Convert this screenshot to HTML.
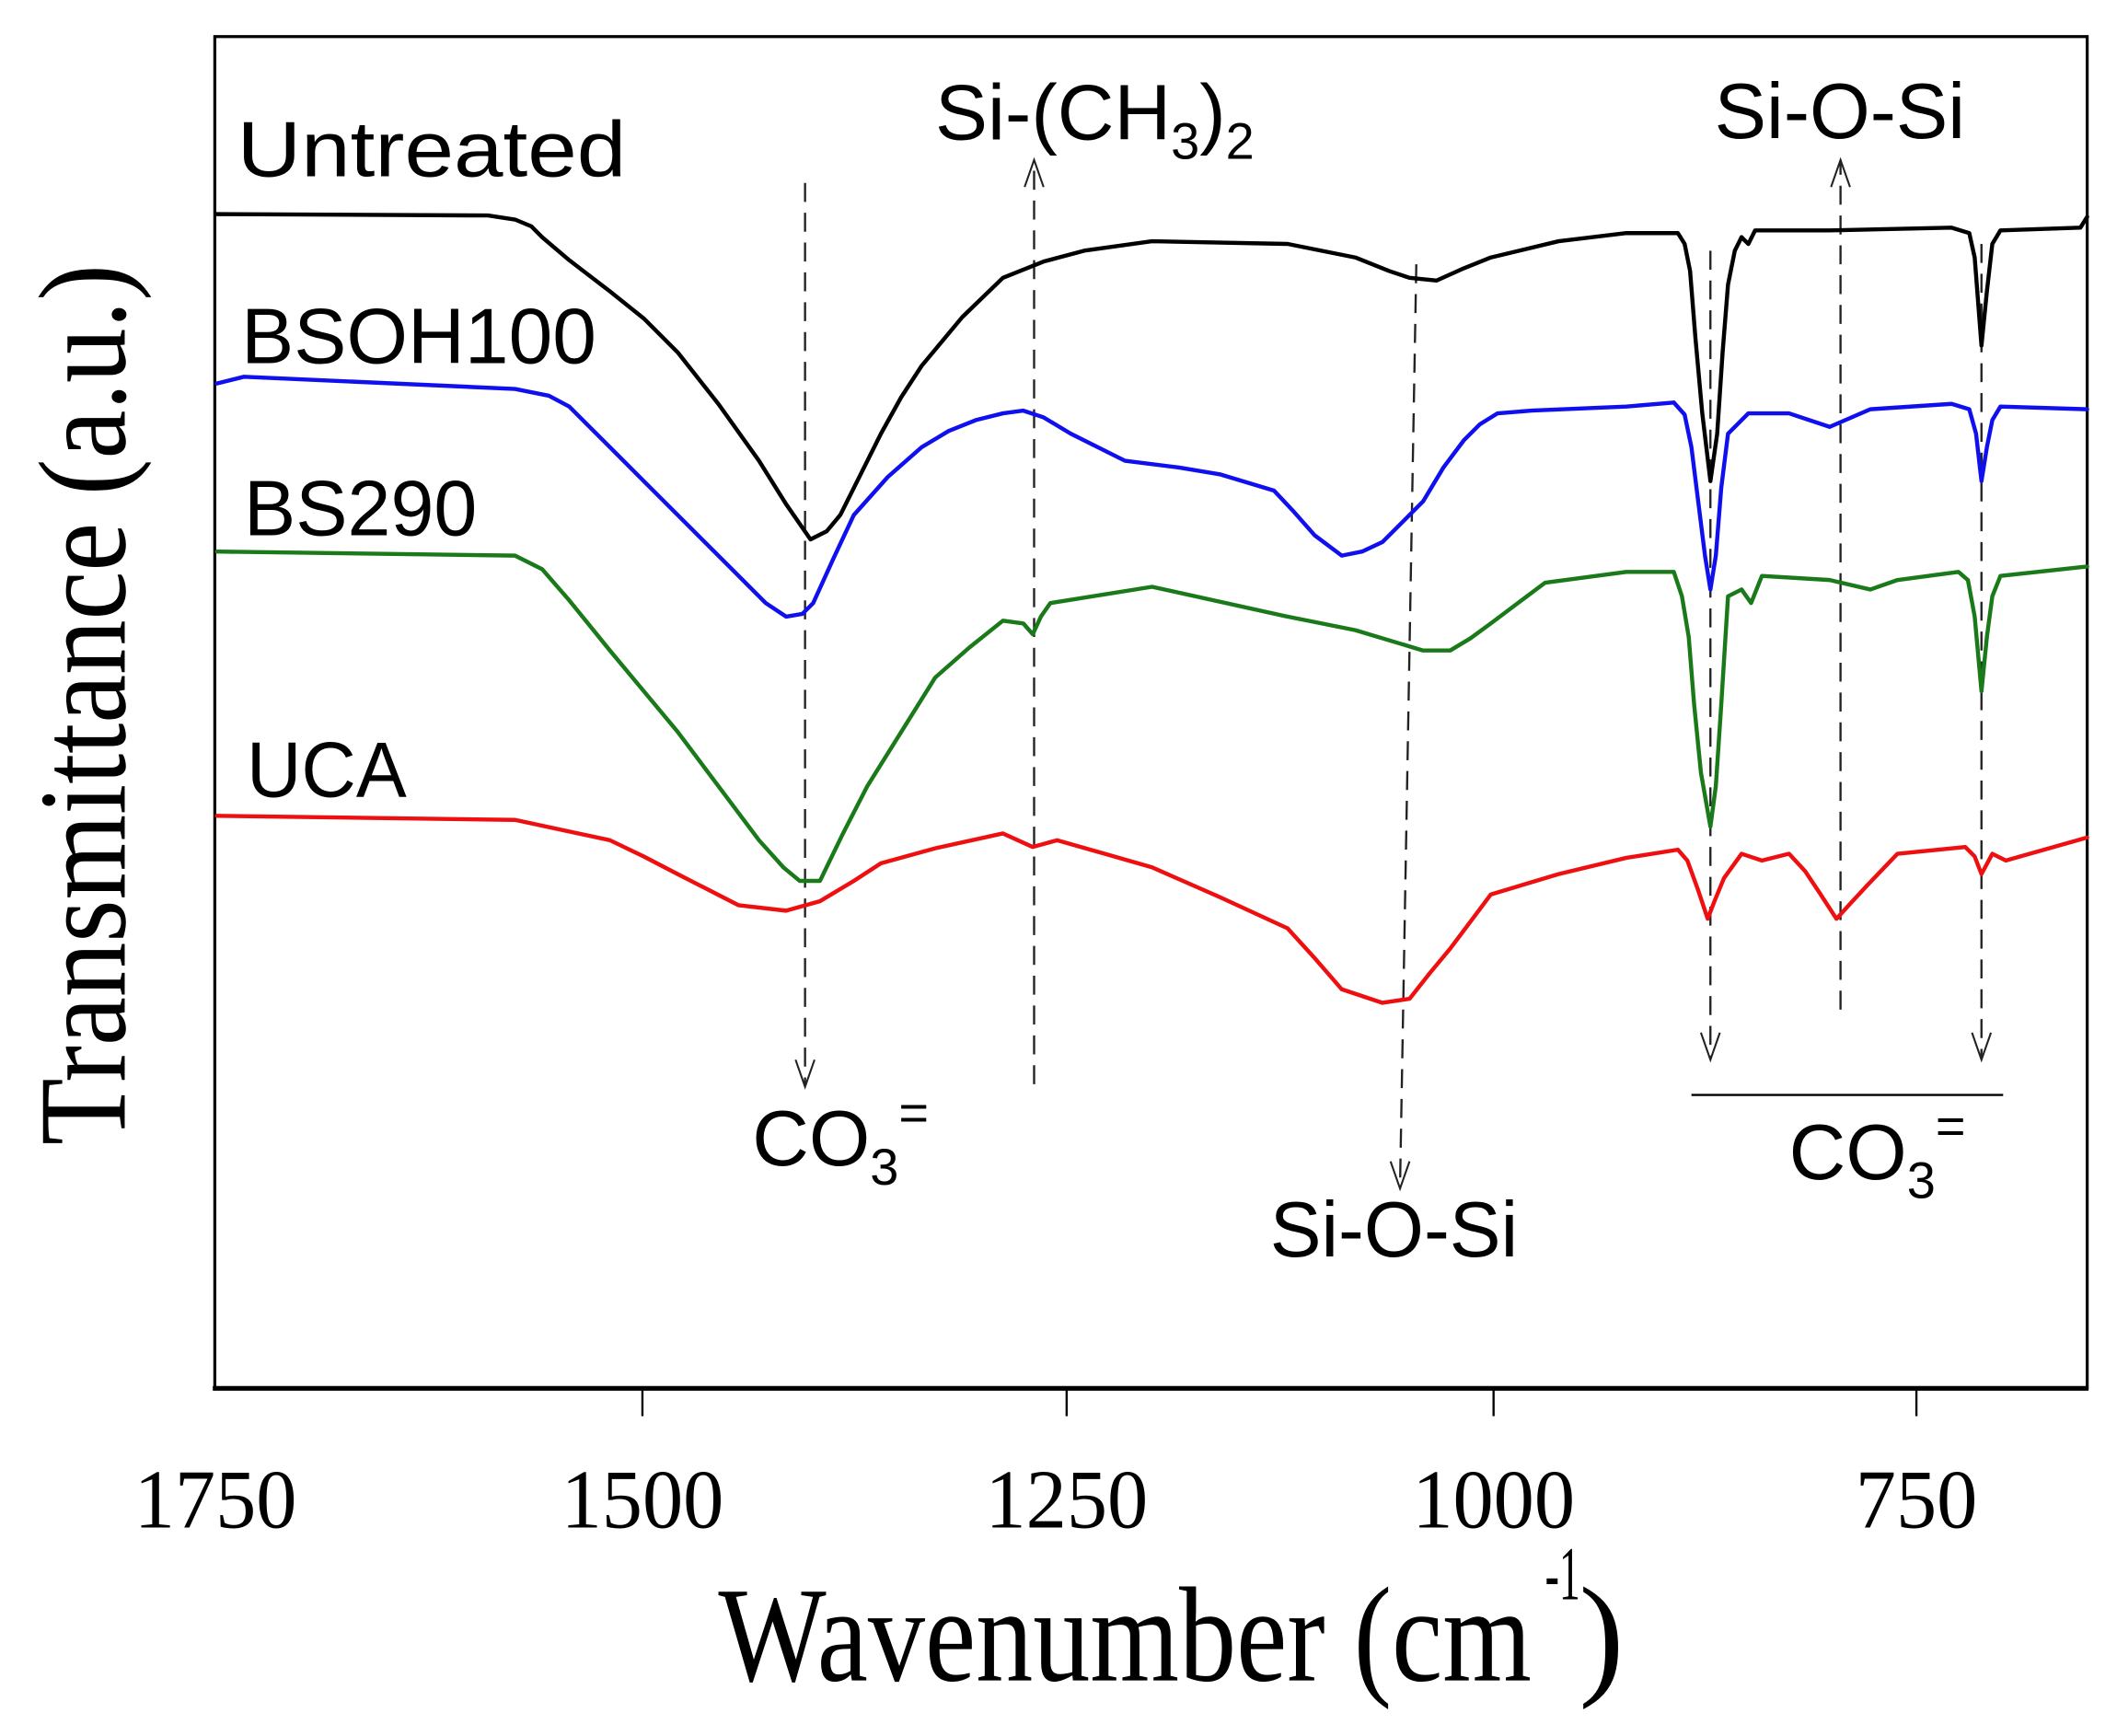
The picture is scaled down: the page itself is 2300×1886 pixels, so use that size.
<!DOCTYPE html>
<html><head><meta charset="utf-8"><style>html,body{margin:0;padding:0;background:#fff}svg{display:block}</style></head>
<body>
<svg width="2300" height="1886" viewBox="0 0 1562 1281" preserveAspectRatio="none" xmlns="http://www.w3.org/2000/svg">
<rect x="0" y="0" width="1562" height="1281" fill="#fff"/>
<rect x="158.5" y="27" width="1381.5" height="997" fill="none" stroke="#000" stroke-width="2.2"/>
<line x1="157" y1="1024.5" x2="1541" y2="1024.5" stroke="#000" stroke-width="3.5"/>
<g stroke="#000" stroke-width="1.6">
<line x1="474" y1="1024" x2="474" y2="1045"/><line x1="787" y1="1024" x2="787" y2="1045"/>
<line x1="1102" y1="1024" x2="1102" y2="1045"/><line x1="1414" y1="1024" x2="1414" y2="1045"/>
</g>
<g font-family="Liberation Serif, serif" font-size="62" text-anchor="middle" fill="#000">
<text x="159" y="1127" textLength="120" lengthAdjust="spacingAndGlyphs">1750</text>
<text x="474" y="1127" textLength="120" lengthAdjust="spacingAndGlyphs">1500</text>
<text x="787" y="1127" textLength="120" lengthAdjust="spacingAndGlyphs">1250</text>
<text x="1102" y="1127" textLength="120" lengthAdjust="spacingAndGlyphs">1000</text>
<text x="1414" y="1127" textLength="90" lengthAdjust="spacingAndGlyphs">750</text>
</g>
<text x="530" y="1240" font-family="Liberation Serif, serif" font-size="100" textLength="600" lengthAdjust="spacingAndGlyphs">Wavenumber (cm</text>
<text x="1140" y="1180" font-family="Liberation Serif, serif" font-size="56" textLength="26" lengthAdjust="spacingAndGlyphs">-1</text>
<text x="1165" y="1240" font-family="Liberation Serif, serif" font-size="100">)</text>
<text transform="translate(92,845) rotate(-90)" font-family="Liberation Serif, serif" font-size="92" textLength="650" lengthAdjust="spacingAndGlyphs">Transmittance (a.u.)</text>

<g font-family="Liberation Sans, sans-serif" font-size="58" fill="#000">
<text x="175" y="130" textLength="287" lengthAdjust="spacingAndGlyphs">Untreated</text>
<text x="178" y="268" textLength="262" lengthAdjust="spacingAndGlyphs">BSOH100</text>
<text x="180" y="395" textLength="172" lengthAdjust="spacingAndGlyphs">BS290</text>
<text x="182" y="588" textLength="118" lengthAdjust="spacingAndGlyphs">UCA</text>
<text x="690" y="103">Si-(CH<tspan font-size="38" dy="14">3</tspan><tspan dy="-14">)</tspan><tspan font-size="38" dy="14">2</tspan></text>
<text x="1265" y="102" textLength="185" lengthAdjust="spacingAndGlyphs">Si-O-Si</text>
<text x="555" y="860">CO<tspan font-size="38" dy="14">3</tspan><tspan font-size="38" dy="-40">=</tspan></text>
<text x="937" y="927" textLength="183" lengthAdjust="spacingAndGlyphs">Si-O-Si</text>
<text x="1320" y="870">CO<tspan font-size="38" dy="14">3</tspan><tspan font-size="38" dy="-40">=</tspan></text>
</g>
<line x1="1248" y1="808" x2="1478" y2="808" stroke="#000" stroke-width="1.6"/>

<g stroke="#222" stroke-width="1.6" stroke-dasharray="14,8" fill="none">
<line x1="594" y1="135" x2="594" y2="800"/>
<line x1="763" y1="800" x2="763" y2="118"/>
<line x1="1045" y1="195" x2="1033" y2="875"/>
<line x1="1262" y1="185" x2="1262" y2="780"/>
<line x1="1358" y1="745" x2="1358" y2="118"/>
<line x1="1462" y1="180" x2="1462" y2="780"/>
</g>
<g stroke="#222" stroke-width="1.4" fill="none">
<polyline points="587,782 594,802 601,782"/>
<polyline points="756,138 763,118 770,138"/>
<polyline points="1026,857 1033,877 1040,857"/>
<polyline points="1255,762 1262,782 1269,762"/>
<polyline points="1351,138 1358,118 1365,138"/>
<polyline points="1455,762 1462,782 1469,762"/>
</g>

<g fill="none" stroke-width="3" stroke-linejoin="round" stroke-linecap="round">
<polyline stroke="#000" points="160,158 360,159 380,162 392,167 400,175 420,192 450,215 475,235 500,260 530,298 560,340 580,372 598,398 610,392 620,380 635,350 650,320 665,293 680,270 710,234 740,205 770,193 800,185 850,178 950,180 1000,190 1025,200 1040,205 1060,207 1080,198 1100,190 1150,178 1200,172 1238,172 1243,180 1247,200 1251,250 1256,305 1262,355 1267,320 1271,260 1275,210 1280,185 1285,175 1290,180 1295,170 1350,170 1440,168 1453,172 1457,190 1462,255 1466,215 1470,180 1476,170 1535,168 1540,160"/>
<polyline stroke="#1010ee" points="160,283 180,278 380,287 405,292 420,300 450,330 480,360 510,390 540,420 565,445 580,455 592,453 600,445 615,412 630,380 655,352 680,330 700,318 720,310 740,305 755,303 770,308 790,320 830,340 870,345 900,350 940,362 955,378 970,395 990,410 1005,407 1020,400 1050,370 1065,345 1080,325 1092,313 1105,305 1130,303 1200,300 1235,297 1243,306 1248,330 1253,370 1258,410 1262,435 1266,410 1270,360 1275,320 1290,305 1320,305 1350,315 1380,302 1440,298 1453,302 1458,320 1462,355 1466,330 1470,310 1476,300 1540,302"/>
<polyline stroke="#1a7a1a" points="160,407 380,410 400,420 420,443 450,480 475,510 500,540 530,580 560,620 578,640 590,650 605,650 622,615 640,580 665,540 690,500 715,478 740,458 755,460 762,468 768,455 775,445 850,433 950,455 1000,465 1050,480 1070,480 1085,471 1100,460 1120,445 1140,430 1200,422 1235,422 1241,440 1246,470 1250,520 1255,570 1262,610 1266,580 1270,520 1275,440 1285,435 1292,445 1300,425 1350,428 1380,435 1400,428 1445,422 1452,428 1457,455 1462,510 1466,470 1470,440 1476,425 1540,418"/>
<polyline stroke="#ee1010" points="160,602 380,605 450,620 475,632 500,645 545,668 580,672 605,665 630,650 650,637 690,626 740,615 762,625 780,620 815,630 850,640 900,662 950,685 970,707 990,730 1020,740 1040,737 1055,718 1070,700 1085,680 1100,660 1150,645 1200,633 1238,627 1245,635 1253,657 1260,678 1265,665 1272,648 1285,630 1300,635 1320,630 1332,643 1342,658 1355,678 1365,667 1378,653 1400,630 1450,625 1457,632 1462,645 1470,630 1480,635 1540,618"/>
</g>
</svg>
</body></html>
